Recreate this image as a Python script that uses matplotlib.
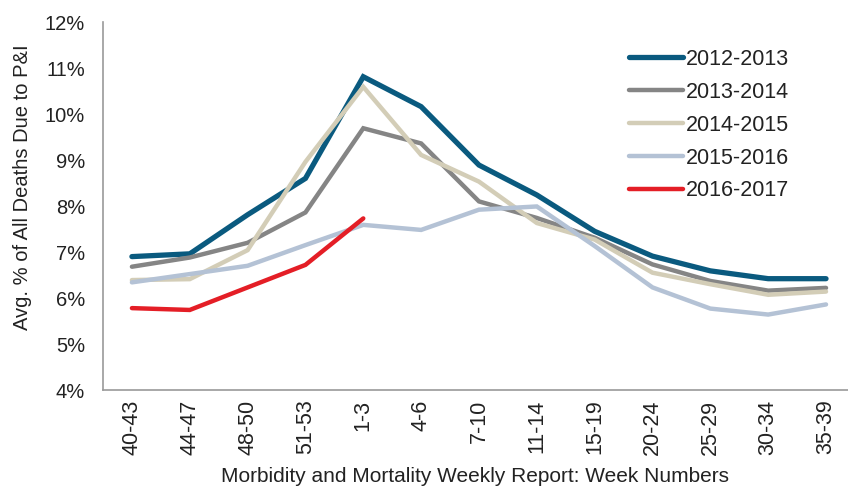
import matplotlib
matplotlib.use("Agg")
import matplotlib.pyplot as plt

plt.rcParams['font.family'] = ['Liberation Sans', 'DejaVu Sans']

weeks = ["40-43", "44-47", "48-50", "51-53", "1-3", "4-6", "7-10",
         "11-14", "15-19", "20-24", "25-29", "30-34", "35-39"]

s2012 = [6.90, 6.96, 7.81, 8.60, 10.81, 10.16, 8.89, 8.24, 7.45, 6.91, 6.59, 6.42, 6.42]
s2013 = [6.68, 6.88, 7.20, 7.86, 9.69, 9.36, 8.10, 7.74, 7.31, 6.73, 6.37, 6.16, 6.22]
s2014 = [6.39, 6.41, 7.04, 8.96, 10.59, 9.11, 8.53, 7.63, 7.27, 6.55, 6.30, 6.07, 6.14]
s2015 = [6.34, 6.52, 6.70, 7.15, 7.59, 7.48, 7.92, 7.99, 7.13, 6.23, 5.77, 5.64, 5.86]
s2016 = [5.78, 5.74, 6.23, 6.72, 7.73]

series = [
    ("2012-2013", s2012, "#0a5a7f", 3.8),
    ("2013-2014", s2013, "#858585", 3.2),
    ("2014-2015", s2014, "#d3cdb7", 3.2),
    ("2015-2016", s2015, "#b4c2d5", 3.2),
    ("2016-2017", s2016, "#e41e26", 3.2),
]

W, H = 848, 493
fig = plt.figure(figsize=(W / 100, H / 100), dpi=100)
ax = fig.add_axes([103 / W, 1 - 390 / H, (W - 103) / W, (390 - 22) / H])

for name, vals, col, lw in series:
    ax.plot(range(len(vals)), vals, color=col, lw=lw, label=name,
            solid_capstyle='round', solid_joinstyle='miter')

ax.set_xlim(-0.5, 12.38)
ax.set_ylim(4, 12)
ax.set_yticks(range(4, 13))
ax.set_yticklabels([f"{v}%" for v in range(4, 13)], fontsize=14.5)
ax.set_xticks(range(len(weeks)))
ax.set_xticklabels(weeks, rotation=90, fontsize=15.5)
ax.tick_params(axis='both', length=0, colors='#222222')
ax.tick_params(axis='y', pad=13)
ax.tick_params(axis='x', pad=7)

for sp in ['top', 'right']:
    ax.spines[sp].set_visible(False)
for sp in ['left', 'bottom']:
    ax.spines[sp].set_color('#9a9a9a')
    ax.spines[sp].set_linewidth(1.2)

ax.set_ylabel("Avg. % of All Deaths Due to P&I", fontsize=14.5, color='#222222')
ax.yaxis.set_label_coords((32 - 103) / 745, 0.55)
ax.set_xlabel("Morbidity and Mortality Weekly Report: Week Numbers", fontsize=15,
              color='#222222')
ax.xaxis.set_label_coords(0.499, (390 - 467) / 368)

leg = ax.legend(loc='upper left', bbox_to_anchor=(0.695, 0.95), frameon=False,
                fontsize=15.5, handlelength=2.5, handletextpad=0.12, labelspacing=0.55,
                borderaxespad=0)
for t in leg.get_texts():
    t.set_color('#222222')

fig.savefig("out.png", dpi=100)
